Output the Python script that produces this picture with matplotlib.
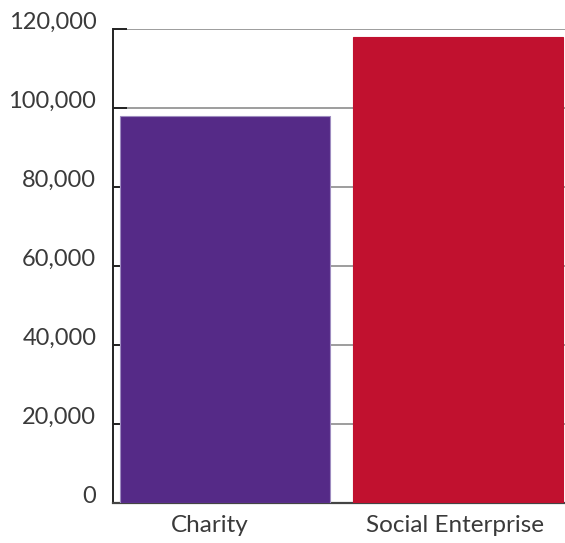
#!/usr/bin/env python3
"""Bar chart comparing charity and social enterprise totals."""

import matplotlib

matplotlib.use("Agg")
import matplotlib.pyplot as plt  # noqa: E402
import matplotlib.transforms as mtransforms  # noqa: E402
from matplotlib.ticker import FuncFormatter  # noqa: E402


categories = ["Charity", "Social Enterprise"]
values = [98000, 118000]
bar_colors = ["#552A87", "#C1112F"]
edge_colors = ["#9E8CC0", "#C1112F"]
y_ticks = [0, 20000, 40000, 60000, 80000, 100000, 120000]

plt.rcParams["font.family"] = ["Lato", "DejaVu Sans"]

figure = plt.figure(figsize=(5.65, 5.43), dpi=100)
axis = figure.add_axes([0.2, 0.0737, 0.8, 0.8729])

positions = list(range(len(categories)))
axis.bar(
    positions,
    values,
    width=0.9,
    color=bar_colors,
    edgecolor=edge_colors,
    linewidth=0.8,
    zorder=3,
)

axis.set_xlim(-0.48, 1.46)
axis.set_ylim(0, 120000)
axis.set_yticks(y_ticks)
axis.yaxis.set_major_formatter(FuncFormatter(lambda v, _: "{:,.0f}".format(v)))
axis.set_xticks(positions)
axis.set_xticklabels(categories)

axis.grid(axis="y", color="#8C8C8C", linewidth=1.2, zorder=0)
axis.tick_params(
    axis="y",
    direction="in",
    length=10,
    width=1.4,
    color="#222222",
    pad=12,
    labelsize=17,
    labelcolor="#3A3A3A",
)
axis.tick_params(axis="x", length=0, pad=9, labelsize=17.5, labelcolor="#3A3A3A")

# value labels sit a little above their gridlines
lift = mtransforms.ScaledTranslation(0, 6 / 72, figure.dpi_scale_trans)
for label in axis.get_yticklabels():
    label.set_transform(label.get_transform() + lift)

# category labels are nudged left of the bar centres
for label, shift in zip(axis.get_xticklabels(), (-15, -3)):
    nudge = mtransforms.ScaledTranslation(shift / 100, 0, figure.dpi_scale_trans)
    label.set_transform(label.get_transform() + nudge)

for side in ("top", "right"):
    axis.spines[side].set_visible(False)
axis.spines["left"].set_color("#222222")
axis.spines["left"].set_linewidth(1.4)
axis.spines["bottom"].set_color("#444444")
axis.spines["bottom"].set_linewidth(1.6)

figure.savefig("out.png", dpi=100)
plt.close(figure)
